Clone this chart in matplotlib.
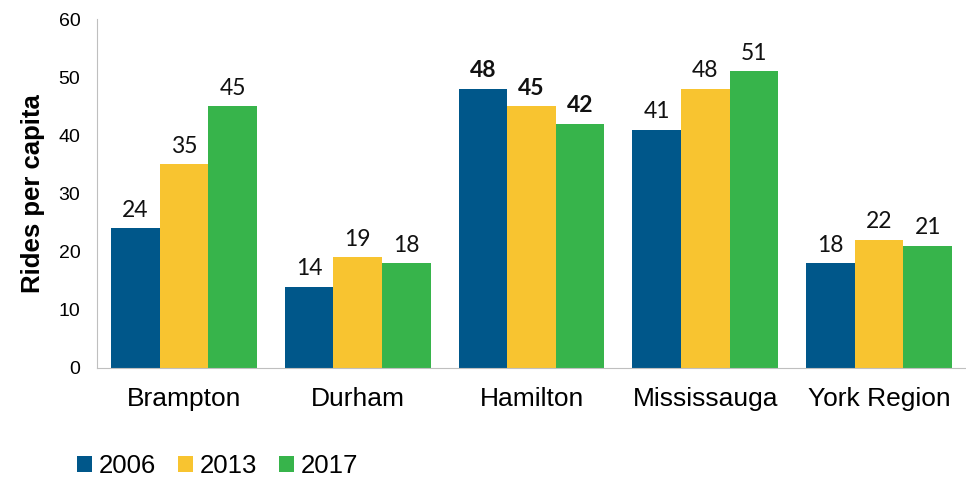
import numpy as np
import matplotlib.pyplot as plt

regions = ['Brampton', 'Durham', 'Hamilton', 'Mississauga', 'York Region']
years = ['2006', '2013', '2017']
rides_2006 = [24, 14, 48, 41, 18]
rides_2013 = [35, 19, 45, 48, 22]
rides_2017 = [45, 18, 42, 51, 21]
colors = ['#00578A', '#F8C430', '#37B44B']
bold_region = 'Hamilton'

fig = plt.figure(figsize=(9.66, 4.79), dpi=100)
ax = fig.add_axes([97 / 966, 111 / 479, 869 / 966, 349 / 479])

x = np.arange(len(regions))
width = 0.28
series = [rides_2006, rides_2013, rides_2017]
for i, (vals, yr, c) in enumerate(zip(series, years, colors)):
    bars = ax.bar(x + (i - 1) * width, vals, width, color=c, label=yr)
    for j, b in enumerate(bars):
        weight = 'bold' if regions[j] == bold_region else 'normal'
        ax.text(b.get_x() + b.get_width() / 2, b.get_height() + 1.3, str(vals[j]),
                ha='center', va='bottom', fontsize=16.5, fontweight=weight,
                family='Lato', color='#111111')

ax.set_xlim(-0.5, len(regions) - 0.5)
ax.set_ylim(0, 60)
ax.set_yticks(range(0, 61, 10))
ax.set_xticks(x)
ax.set_xticklabels(regions, fontsize=19, family='Liberation Sans')
for lab in ax.get_yticklabels():
    lab.set_family('Liberation Sans')
    lab.set_fontsize(14)
ax.tick_params(length=0)
ax.tick_params(axis='y', pad=12)
ax.tick_params(axis='x', pad=14)
for s in ['top', 'right']:
    ax.spines[s].set_visible(False)
ax.spines['left'].set_color('#BFBFBF')
ax.spines['bottom'].set_color('#BFBFBF')
ax.set_ylabel('Rides per capita', fontsize=18.5, fontweight='bold',
              family='Liberation Sans', labelpad=10)

ax.legend(loc='upper left', bbox_to_anchor=(-0.044, -0.196), ncol=3, frameon=False,
          prop={'family': 'Liberation Sans', 'size': 18.5}, handlelength=0.6,
          handleheight=0.6, handletextpad=0.25, columnspacing=0.85,
          borderpad=0.2)

fig.savefig('out.png', dpi=100)
